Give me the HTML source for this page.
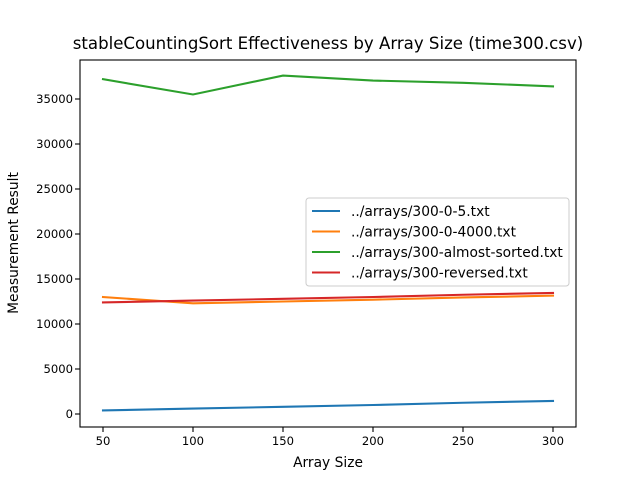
<!DOCTYPE html>
<html><head><meta charset="utf-8"><style>
body{margin:0;background:#fff;}
svg{display:block;font-family:"DejaVu Sans","Liberation Sans",sans-serif;}
</style></head><body>
<svg id="chart" width="640" height="480" viewBox="0 0 640 480" xmlns="http://www.w3.org/2000/svg">
<rect width="640" height="480" fill="#fff"/>
<text x="328" y="49" text-anchor="middle" font-size="16.6">stableCountingSort Effectiveness by Array Size (time300.csv)</text>
<g id="plot"></g>
<text x="328" y="467" text-anchor="middle" font-size="13.8">Array Size</text>
<text transform="translate(18,243) rotate(-90)" text-anchor="middle" font-size="13.8">Measurement Result</text>
</svg>
<script>
const categories=[50,100,150,200,250,300];
const seriesNames=["../arrays/300-0-5.txt","../arrays/300-0-4000.txt","../arrays/300-almost-sorted.txt","../arrays/300-reversed.txt"];
const seriesColors=["#1f77b4","#ff7f0e","#2ca02c","#d62728"];
const s0=[400,600,800,1000,1250,1450];
const s1=[13000,12300,12500,12700,12950,13150];
const s2=[37200,35500,37600,37050,36800,36400];
const s3=[12400,12600,12800,13000,13250,13450];
const xTicks=[50,100,150,200,250,300];
const yTicks=[0,5000,10000,15000,20000,25000,30000,35000];
const series=[s0,s1,s2,s3];
const L=80,R=576,T=60,B=427;
const xs=v=>103+(v-50)*1.8;
const ys=v=>414-v*0.009;
const NS="http://www.w3.org/2000/svg";
const g=document.getElementById('plot');
function mk(t,a){const e=document.createElementNS(NS,t);for(const k in a)e.setAttribute(k,a[k]);g.appendChild(e);return e;}
xTicks.forEach(v=>{
 const l=mk('line',{x1:xs(v),x2:xs(v),y1:B,y2:B+5,stroke:'#000','stroke-width':1.1});
 
 
 const t=mk('text',{x:xs(v),y:B+18,'text-anchor':'middle','font-size':11.6});t.textContent=v;
 
 
});
yTicks.forEach(v=>{
 const l=mk('line',{x1:L-5,x2:L,y1:ys(v),y2:ys(v),stroke:'#000','stroke-width':1.1});
 
 
 const t=mk('text',{x:L-7,y:ys(v)+4,'text-anchor':'end','font-size':11.6});t.textContent=v;
 
 
});
series.forEach((s,i)=>{
 const p=mk('polyline',{points:s.map((v,j)=>xs(categories[j])+','+ys(v)).join(' '),fill:'none',stroke:seriesColors[i],'stroke-width':2.08,'stroke-linecap':'square'});
 
 
});
const fr=mk('rect',{x:L,y:T,width:R-L,height:B-T,fill:'none',stroke:'#000','stroke-width':1.1});


const lg=mk('rect',{x:306,y:198,width:263,height:88,rx:3,fill:'#fff','fill-opacity':0.8,stroke:'#ccc','stroke-width':1});


seriesNames.forEach((n,i)=>{
 const y=211+i*20.5;
 const l=mk('line',{x1:312,x2:340,y1:y,y2:y,stroke:seriesColors[i],'stroke-width':2.08});
 
 
 const t=mk('text',{x:351,y:y+5,'font-size':13.8});t.textContent=n;
 
 
});
</script>
</body></html>
